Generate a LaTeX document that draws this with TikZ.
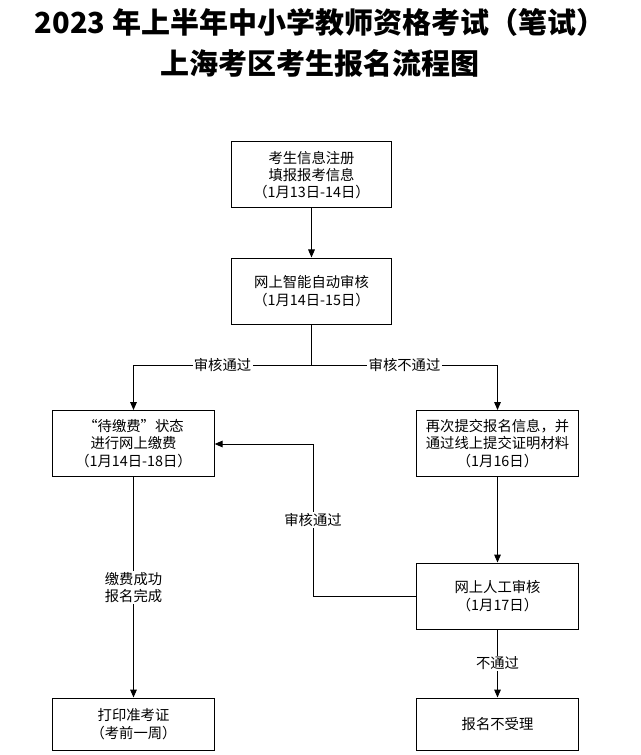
\documentclass[tikz,border=0pt]{standalone}
\usepackage{fontspec}
\setmainfont{Noto Sans CJK SC}
\newfontfamily\cjk{Noto Sans CJK SC}
\usepackage{tikz}
\usetikzlibrary{arrows.meta,positioning,calc}

\begin{document}
\begin{tikzpicture}[
    x=0.75pt, y=-0.75pt,
    box/.style={draw, line width=0.75pt, minimum width=120pt, minimum height=49.5pt, align=center, inner sep=0pt, font=\cjk\fontsize{10.75}{13}\selectfont},
    lbl/.style={fill=white, inner sep=1pt, align=center, font=\cjk\fontsize{10.75}{13}\selectfont},
    arr/.style={-{Triangle[length=6pt, width=5pt]}, line width=0.75pt}
]
\useasboundingbox (0,0) rectangle (640,755);
\node[font=\cjk\bfseries\fontsize{21.75}{30.75}\selectfont, align=center] (title) at (320,42.5)
    {2023 年上半年中小学教师资格考试（笔试）\\上海考区考生报名流程图};

\node[box] (reg) at (311.5,175) {考生信息注册\\填报报考信息\\（1月13日-14日）};
\node[box] (auto) at (311.5,291) {网上智能自动审核\\（1月14日-15日）};
\node[box, minimum width=121pt] (pay) at (133.5,443.5) {“待缴费”状态\\进行网上缴费\\（1月14日-18日）};
\node[box, minimum width=121pt] (resub) at (497.5,443.5) {再次提交报名信息，并\\通过线上提交证明材料\\（1月16日）};
\node[box, minimum width=121pt] (manual) at (497.5,596) {网上人工审核\\（1月17日）};
\node[box, minimum width=121pt, minimum height=39pt] (print) at (133.5,724) {打印准考证\\（考前一周）};
\node[box, minimum width=121pt, minimum height=39pt] (reject) at (497.5,724) {报名不受理};

\coordinate (split) at (311.5,365);
\coordinate (back) at (313,444);

\draw[arr] (reg) -- (auto);
\draw[line width=0.75pt] (auto) -- (split);
\draw[arr] (split) -- node[lbl]{审核通过} (split -| pay) -- (pay);
\draw[arr] (split) -- node[lbl]{审核不通过} (split -| resub) -- (resub);
\draw[arr] (pay) -- node[lbl]{缴费成功\\报名完成} (print);
\draw[arr] (resub) -- (manual);
\draw[arr] (manual.west) -| node[lbl, pos=0.75]{审核通过} (back) -- (pay.east |- back);
\draw[arr] (manual) -- node[lbl]{不通过} (reject);
\end{tikzpicture}
\end{document}
